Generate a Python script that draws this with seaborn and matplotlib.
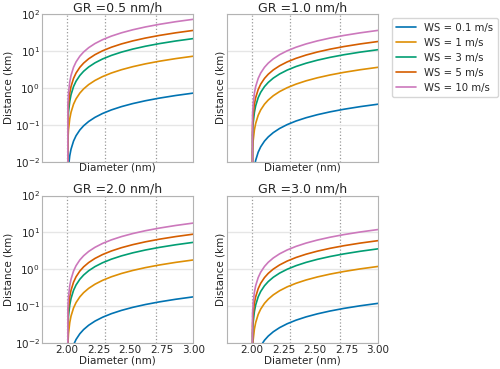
import pandas as pd
import matplotlib
matplotlib.use("Agg")
import matplotlib.pyplot as plt
import seaborn as sns

# Diameter grid (nm) and read-off distances (km) per growth rate panel
diameter = [2.0, 2.005, 2.01, 2.02, 2.03, 2.05, 2.07, 2.1, 2.13, 2.17,
            2.22, 2.28, 2.35, 2.43, 2.52, 2.62, 2.73, 2.86, 3.0]
wind_speeds = ["WS = 0.1 m/s", "WS = 1 m/s", "WS = 3 m/s", "WS = 5 m/s", "WS = 10 m/s"]
growth_rates = ["GR =0.5 nm/h", "GR =1.0 nm/h", "GR =2.0 nm/h", "GR =3.0 nm/h"]

dist_gr05 = [
    [0, 0.0036, 0.0072, 0.0144, 0.0216, 0.036, 0.0504, 0.072, 0.0936, 0.1224,
     0.1584, 0.2016, 0.252, 0.3096, 0.3744, 0.4464, 0.5256, 0.6192, 0.72],
    [0, 0.036, 0.072, 0.144, 0.216, 0.36, 0.504, 0.72, 0.936, 1.224,
     1.584, 2.016, 2.52, 3.096, 3.744, 4.464, 5.256, 6.192, 7.2],
    [0, 0.108, 0.216, 0.432, 0.648, 1.08, 1.512, 2.16, 2.808, 3.672,
     4.752, 6.048, 7.56, 9.288, 11.23, 13.39, 15.77, 18.58, 21.6],
    [0, 0.18, 0.36, 0.72, 1.08, 1.8, 2.52, 3.6, 4.68, 6.12,
     7.92, 10.08, 12.6, 15.48, 18.72, 22.32, 26.28, 30.96, 36],
    [0, 0.36, 0.72, 1.44, 2.16, 3.6, 5.04, 7.2, 9.36, 12.24,
     15.84, 20.16, 25.2, 30.96, 37.44, 44.64, 52.56, 61.92, 72],
]
dist_gr10 = [
    [0, 0.0018, 0.0036, 0.0072, 0.0108, 0.018, 0.0252, 0.036, 0.0468, 0.0612,
     0.0792, 0.1008, 0.126, 0.1548, 0.1872, 0.2232, 0.2628, 0.3096, 0.36],
    [0, 0.018, 0.036, 0.072, 0.108, 0.18, 0.252, 0.36, 0.468, 0.612,
     0.792, 1.008, 1.26, 1.548, 1.872, 2.232, 2.628, 3.096, 3.6],
    [0, 0.054, 0.108, 0.216, 0.324, 0.54, 0.756, 1.08, 1.404, 1.836,
     2.376, 3.024, 3.78, 4.644, 5.616, 6.696, 7.884, 9.288, 10.8],
    [0, 0.09, 0.18, 0.36, 0.54, 0.9, 1.26, 1.8, 2.34, 3.06,
     3.96, 5.04, 6.3, 7.74, 9.36, 11.16, 13.14, 15.48, 18],
    [0, 0.18, 0.36, 0.72, 1.08, 1.8, 2.52, 3.6, 4.68, 6.12,
     7.92, 10.08, 12.6, 15.48, 18.72, 22.32, 26.28, 30.96, 36],
]
dist_gr20 = [
    [0, 0.0009, 0.0018, 0.0036, 0.0054, 0.009, 0.0126, 0.018, 0.0234, 0.0306,
     0.0396, 0.0504, 0.063, 0.0774, 0.0936, 0.1116, 0.1314, 0.1548, 0.18],
    [0, 0.009, 0.018, 0.036, 0.054, 0.09, 0.126, 0.18, 0.234, 0.306,
     0.396, 0.504, 0.63, 0.774, 0.936, 1.116, 1.314, 1.548, 1.8],
    [0, 0.027, 0.054, 0.108, 0.162, 0.27, 0.378, 0.54, 0.702, 0.918,
     1.188, 1.512, 1.89, 2.322, 2.808, 3.348, 3.942, 4.644, 5.4],
    [0, 0.045, 0.09, 0.18, 0.27, 0.45, 0.63, 0.9, 1.17, 1.53,
     1.98, 2.52, 3.15, 3.87, 4.68, 5.58, 6.57, 7.74, 9],
    [0, 0.09, 0.18, 0.36, 0.54, 0.9, 1.26, 1.8, 2.34, 3.06,
     3.96, 5.04, 6.3, 7.74, 9.36, 11.16, 13.14, 15.48, 18],
]
dist_gr30 = [
    [0, 0.0006, 0.0012, 0.0024, 0.0036, 0.006, 0.0084, 0.012, 0.0156, 0.0204,
     0.0264, 0.0336, 0.042, 0.0516, 0.0624, 0.0744, 0.0876, 0.1032, 0.12],
    [0, 0.006, 0.012, 0.024, 0.036, 0.06, 0.084, 0.12, 0.156, 0.204,
     0.264, 0.336, 0.42, 0.516, 0.624, 0.744, 0.876, 1.032, 1.2],
    [0, 0.018, 0.036, 0.072, 0.108, 0.18, 0.252, 0.36, 0.468, 0.612,
     0.792, 1.008, 1.26, 1.548, 1.872, 2.232, 2.628, 3.096, 3.6],
    [0, 0.03, 0.06, 0.12, 0.18, 0.3, 0.42, 0.6, 0.78, 1.02,
     1.32, 1.68, 2.1, 2.58, 3.12, 3.72, 4.38, 5.16, 6],
    [0, 0.06, 0.12, 0.24, 0.36, 0.6, 0.84, 1.2, 1.56, 2.04,
     2.64, 3.36, 4.2, 5.16, 6.24, 7.44, 8.76, 10.32, 12],
]
marker_diameters = [2.0, 2.3, 2.7]

panels = [dist_gr05, dist_gr10, dist_gr20, dist_gr30]

sns.set_style("whitegrid", {"axes.edgecolor": "0.7", "grid.color": "0.9"})
plt.rcParams["font.family"] = ["DejaVu Sans"]

fig, axes = plt.subplots(2, 2, figsize=(5, 3.69), dpi=100, sharex=True, sharey=True)
fig.subplots_adjust(left=0.084, right=0.756, top=0.962, bottom=0.07, wspace=0.22, hspace=0.23)

palette = sns.color_palette("colorblind", 5)

for ax, title, dist in zip(axes.flat, growth_rates, panels):
    rows = []
    for ws, vals in zip(wind_speeds, dist):
        for d, v in zip(diameter, vals):
            rows.append({"Diameter": d, "Distance": v, "WS": ws})
    df = pd.DataFrame(rows)
    sns.lineplot(data=df, x="Diameter", y="Distance", hue="WS", hue_order=wind_speeds,
                 palette=palette, linewidth=1.2, ax=ax, legend=(ax is axes[0, 0]))
    for xv in marker_diameters:
        ax.axvline(xv, color="0.6", ls=":", lw=0.9, zorder=0)
    ax.set_yscale("log")
    ax.set_ylim(1e-2, 1e2)
    ax.set_xlim(1.8, 3.0)
    ax.set_xticks([2.0, 2.25, 2.5, 2.75, 3.0])
    ax.set_xticklabels(["2.00", "2.25", "2.50", "2.75", "3.00"])
    ax.xaxis.grid(False)
    ax.yaxis.grid(True, which="major", lw=1)
    ax.set_title(title, fontsize=9, pad=2)
    ax.set_xlabel("Diameter (nm)", fontsize=7.5, labelpad=0.5)
    ax.set_ylabel("Distance (km)", fontsize=7.5, labelpad=1)
    ax.xaxis.label.set_visible(True)
    ax.yaxis.label.set_visible(True)
    ax.tick_params(labelsize=7.5, pad=1.5, length=0)
    ax.tick_params(axis="x", labelbottom=ax in axes[1])

handles, labels = axes[0, 0].get_legend_handles_labels()
axes[0, 0].get_legend().remove()
fig.legend(handles, labels, loc="upper left", bbox_to_anchor=(0.784, 0.95),
           fontsize=7.3, frameon=True, borderaxespad=0)

fig.savefig("out.png", dpi=100)
